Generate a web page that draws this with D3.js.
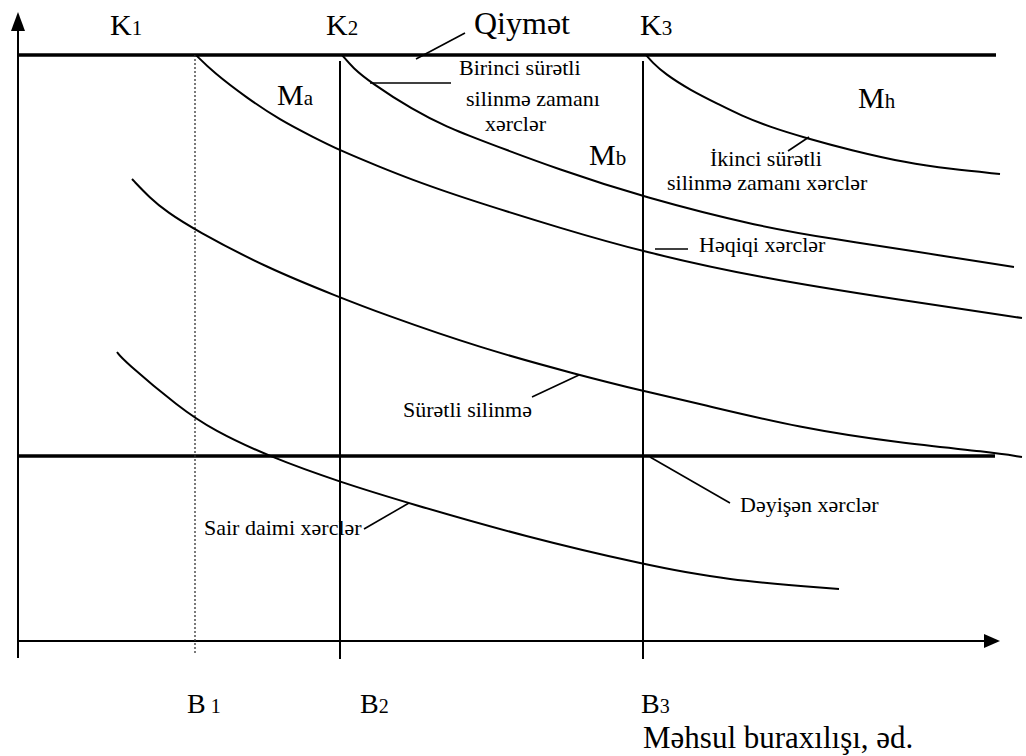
<!DOCTYPE html>
<html><head><meta charset="utf-8">
<script src="https://cdn.jsdelivr.net/npm/d3@7"></script>
<style>
html,body{margin:0;padding:0;background:#fff;}
svg{display:block;}
text{font-family:"Liberation Serif","Times New Roman",serif;fill:#000;}
</style></head>
<body>
<script>
// ---- data (abstract units: output on x 0..1000, cost on y 0..600) ----
const outputLevels = ["B1", "B2", "B3"];
const outputValues = [177, 322, 625];
const priceLevel = 586;
const variableCostLevel = 185;
const axisXMax = 982, axisYMax = 629, axisYMin = -17;

const curveNames = ["Ma", "Mb", "Mh", "Sürətli silinmə", "Sair daimi xərclər"];
const curveA_x = [178, 195, 229, 262, 295, 321, 362, 395, 429, 462, 542, 625, 742, 882, 1004];
const curveA_y = [586, 569, 543, 521, 504, 491, 474, 461, 449, 438, 413, 389, 363, 341, 323];
const curveB_x = [324, 335, 352, 395, 429, 462, 542, 625, 742, 822, 882, 996];
const curveB_y = [586, 573, 559, 531, 514, 501, 471, 444, 414, 401, 392, 374];
const curveC_x = [628, 634, 647, 672, 702, 722, 752, 788, 832, 889, 932, 982];
const curveC_y = [586, 579, 567, 551, 536, 526, 514, 503, 491, 478, 472, 467];
const curveD_x = [114, 132, 149, 177, 249, 321, 362, 462, 561, 625, 682, 782, 882, 972, 1004];
const curveD_y = [462, 443, 429, 411, 373, 344, 328, 293, 266, 250, 237, 213, 198, 189, 184];
const curveE_x = [99, 105, 162, 195, 252, 322, 390, 508, 628, 706, 821];
const curveE_y = [289, 281, 233, 211, 184, 159, 138, 104, 76, 61, 52];

const topLabels = ["K", "K", "K"];
const topSubs = ["1", "2", "3"];
const priceLabel = "Qiymət";
const regionLabels = ["M", "M", "M"];
const regionSubs = ["a", "b", "h"];
const annotationTexts = [
  ["Birinci sürətli", "silinmə zamanı", "xərclər"],
  ["İkinci sürətli", "silinmə zamanı xərclər"],
  ["Həqiqi xərclər"],
  ["Sürətli silinmə"],
  ["Sair daimi xərclər"],
  ["Dəyişən xərclər"]
];
const bottomLabels = ["B", "B", "B"];
const bottomSubs = [" 1", "2", "3"];
const xAxisTitle = "Məhsul buraxılışı, əd.";

// ---- layout ----
const W = 1026, H = 756;
const xS = d3.scaleLinear().domain([0, 1000]).range([18, 1018]);
const yS = d3.scaleLinear().domain([0, 600]).range([641, 41]);

const svg = d3.select("body").append("svg").attr("width", W).attr("height", H);

// axes
svg.append("line").attr("x1", xS(0)).attr("x2", xS(0)).attr("y1", yS(axisYMin)).attr("y2", yS(axisYMax - 12))
  .attr("stroke", "#000").attr("stroke-width", 2);
svg.append("path").attr("d", d3.line()([[xS(0), yS(axisYMax)], [xS(0) - 7, yS(axisYMax - 19)], [xS(0) + 7, yS(axisYMax - 19)]]) + "Z")
  .attr("fill", "#000");
svg.append("line").attr("x1", xS(0)).attr("x2", xS(axisXMax - 12)).attr("y1", yS(0)).attr("y2", yS(0))
  .attr("stroke", "#000").attr("stroke-width", 2);
svg.append("path").attr("d", d3.line()([[xS(axisXMax), yS(0)], [xS(axisXMax - 16), yS(0) - 7], [xS(axisXMax - 16), yS(0) + 7]]) + "Z")
  .attr("fill", "#000");

// price line and variable-cost line
svg.append("line").attr("x1", xS(0)).attr("x2", xS(978)).attr("y1", yS(priceLevel)).attr("y2", yS(priceLevel))
  .attr("stroke", "#000").attr("stroke-width", 3.5);
svg.append("line").attr("x1", xS(0)).attr("x2", xS(977)).attr("y1", yS(variableCostLevel)).attr("y2", yS(variableCostLevel))
  .attr("stroke", "#000").attr("stroke-width", 3.5);

// vertical output lines
outputValues.forEach((v, i) => {
  const l = svg.append("line").attr("x1", xS(v)).attr("x2", xS(v))
    .attr("y1", i === 0 ? yS(priceLevel) : yS(priceLevel - 6))
    .attr("y2", i === 0 ? yS(-12) : yS(-18))
    .attr("stroke", "#000");
  if (i === 0) l.attr("stroke-width", 1.3).attr("stroke-dasharray", "2,2").attr("stroke", "#333");
  else l.attr("stroke-width", 2);
});

// curves
const line = d3.line().x(d => xS(d[0])).y(d => yS(d[1])).curve(d3.curveBasis);
[[curveA_x, curveA_y], [curveB_x, curveB_y], [curveC_x, curveC_y], [curveD_x, curveD_y], [curveE_x, curveE_y]]
  .forEach(([xs, ys]) => {
    svg.append("path").attr("d", line(xs.map((x, i) => [x, ys[i]])))
      .attr("fill", "none").attr("stroke", "#000").attr("stroke-width", 2);
  });

// leader lines
const leaders = [
  [398, 582, 447, 608], [352, 558, 433, 558], [770, 490, 791, 504],
  [637, 392, 670, 392], [514, 244, 561, 266], [346, 112, 391, 138], [632, 184, 712, 138]
];
leaders.forEach(a => {
  svg.append("line").attr("x1", xS(a[0])).attr("y1", yS(a[1])).attr("x2", xS(a[2])).attr("y2", yS(a[3]))
    .attr("stroke", "#000").attr("stroke-width", 1.6);
});

function subLabel(x, y, main, sub, size, subSize) {
  const t = svg.append("text").attr("x", xS(x)).attr("y", yS(y)).attr("font-size", size);
  t.append("tspan").text(main);
  t.append("tspan").attr("font-size", subSize).text(sub);
}
// K labels
const kX = [92, 308, 622];
topLabels.forEach((k, i) => subLabel(kX[i], 606, k, topSubs[i], 30, 21));
svg.append("text").attr("x", xS(456)).attr("y", yS(607)).attr("font-size", 32).text(priceLabel);
// M labels
const mPos = [[259, 536], [571, 476], [840, 533]];
regionLabels.forEach((m, i) => subLabel(mPos[i][0], mPos[i][1], m, regionSubs[i], 30, 21));
// B labels
const bX = [169, 342, 623];
bottomLabels.forEach((b, i) => subLabel(bX[i], -72, b, bottomSubs[i], 28, 20));
svg.append("text").attr("x", xS(625)).attr("y", yS(-107)).attr("font-size", 31).text(xAxisTitle);

// annotation texts
const annPos = [
  [[441, 566], [448, 535], [467, 510]],
  [[692, 475], [649, 451]],
  [[681, 389]],
  [[385, 224]],
  [[186, 106]],
  [[722, 129]]
];
annotationTexts.forEach((lines, i) => {
  lines.forEach((s, j) => {
    svg.append("text").attr("x", xS(annPos[i][j][0])).attr("y", yS(annPos[i][j][1]))
      .attr("font-size", 22).text(s);
  });
});
</script>
</body></html>
